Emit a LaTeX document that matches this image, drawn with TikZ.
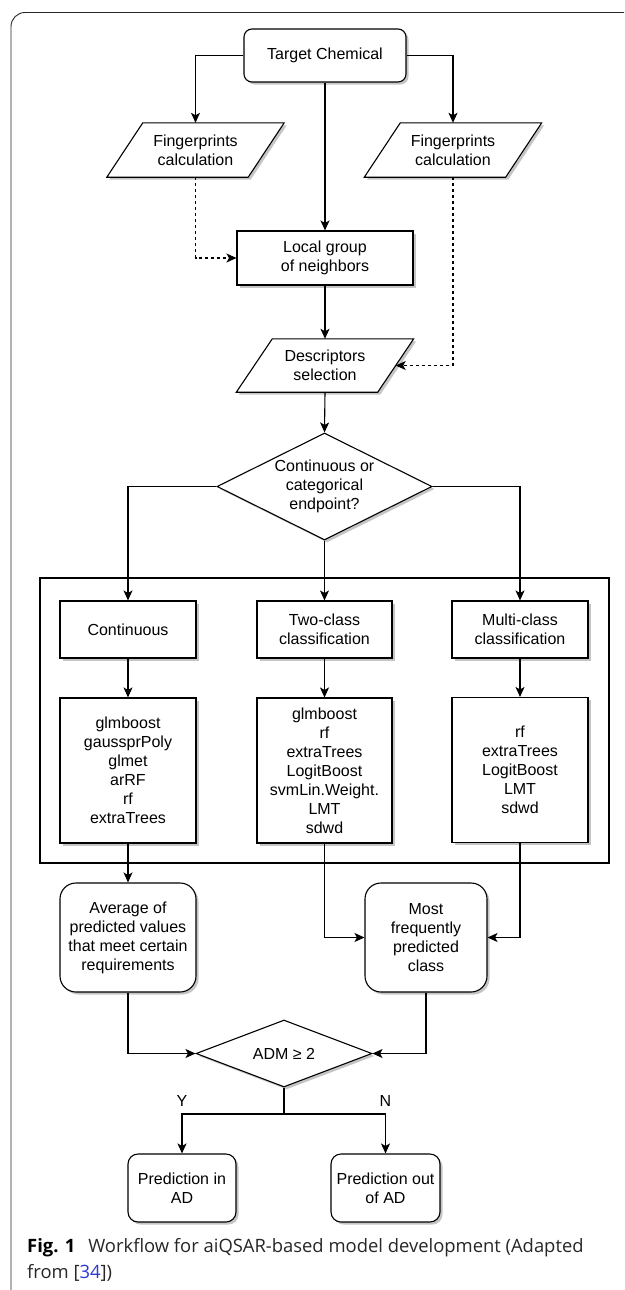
\documentclass[tikz,border=0pt]{standalone}
\usepackage{fontspec}
\setmainfont{Liberation Sans}
\newfontfamily\capfont{Open Sans}
\usetikzlibrary{shapes.geometric,arrows.meta,shadows,backgrounds}
\definecolor{citeblue}{RGB}{45,55,215}

\tikzset{
  lined/.style={draw, line width=1.1pt, fill=white,
    drop shadow={shadow xshift=2.5pt, shadow yshift=-2.5pt, opacity=0.5, fill=black!45}},
  flow/.style={lined, align=center, inner sep=2pt},
  box/.style={flow, rectangle},
  rbox/.style={flow, rectangle, rounded corners=#1},
  io/.style={rectangle, align=center, inner sep=0pt, minimum width=141pt},
  decision/.style={flow, diamond, inner sep=0pt},
  arr/.style={line width=1.1pt, -{Stealth[length=10pt,width=9pt,inset=2.5pt]}},
  dasharr/.style={arr, dash pattern=on 3pt off 3pt},
  yn/.style={inner sep=0pt, above=7pt}
}

\begin{document}
\begin{tikzpicture}[x=1pt, y=-1pt, font=\fontsize{16}{19}\selectfont]
    \useasboundingbox (0,0) rectangle (624,1290);

    % figure frame
    \draw[black!85, line width=0.9pt, rounded corners=14pt] (624,12.5) -- (11,12.5) -- (11,1290);
    \draw[line width=1.1pt] (40,578) rectangle (609,863);

    % top part
    \node[rbox=8pt, minimum width=162pt, minimum height=53pt] (chem) at (325,55.5) {Target Chemical};
    \node[io, minimum height=54pt] (fpl) at (195.5,150) {Fingerprints\\calculation};
    \node[io, minimum height=54pt] (fpr) at (453,150) {Fingerprints\\calculation};
    \node[box, minimum width=176pt, minimum height=54pt] (grp) at (325,258) {Local group\\of neighbors};
    \node[io, minimum height=53pt] (desc) at (325,365.5) {Descriptors\\selection};
    \node[decision, aspect=2, minimum width=215pt, minimum height=107pt] (dec) at (324.5,486.5)
        {Continuous or\\categorical\\endpoint?};

    % parallelograms behind the io nodes
    \begin{scope}[on background layer]
        \foreach \n in {fpl,fpr,desc}
            \draw[lined] ([xshift=-18pt]\n.south west) -- ([xshift=18pt]\n.north west)
                -- ([xshift=18pt]\n.north east) -- ([xshift=-18pt]\n.south east) -- cycle;
    \end{scope}

    % endpoint types
    \node[box, minimum width=136pt, minimum height=57pt] (cont) at (128,629.5) {Continuous};
    \node[box, minimum width=135pt, minimum height=57pt] (two) at (324.5,629.5) {Two-class\\classification};
    \node[box, minimum width=136pt, minimum height=57pt] (multi) at (520,629.5) {Multi-class\\classification};

    % algorithms
    \node[box, minimum width=136pt, minimum height=145pt] (contlist) at (128,770.5)
        {glmboost\\gaussprPoly\\glmet\\arRF\\rf\\extraTrees};
    \node[box, minimum width=135pt, minimum height=145pt] (twolist) at (324.5,770.5)
        {glmboost\\rf\\extraTrees\\LogitBoost\\svmLin.Weight.\\LMT\\sdwd};
    \node[box, minimum width=136pt, minimum height=145pt] (multilist) at (520,770)
        {rf\\extraTrees\\LogitBoost\\LMT\\sdwd};

    % consensus and applicability domain
    \node[rbox=16pt, minimum width=136pt, minimum height=109pt] (avg) at (128,937.5)
        {Average of\\predicted values\\that meet certain\\requirements};
    \node[rbox=16pt, minimum width=122pt, minimum height=109pt] (most) at (426,937.5)
        {Most\\frequently\\predicted\\class};
    \node[decision, aspect=2.6, minimum width=176pt, minimum height=67pt] (adm) at (284,1053.5) {ADM ≥ 2};
    \coordinate (split) at (284,1114);
    \node[rbox=10pt, minimum width=108pt, minimum height=68pt] (pin) at (182,1188) {Prediction in\\AD};
    \node[rbox=10pt, minimum width=109pt, minimum height=68pt] (pout) at (385.5,1188) {Prediction out\\of AD};

    % connectors
    \draw[arr] (chem.west) -| (fpl.north);
    \draw[arr] (chem.east) -| (fpr.north);
    \draw[arr] (chem.south) -- (grp.north);
    \draw[dasharr] (fpl.south) |- (grp.west);
    \draw[dasharr] (fpr.south) |- (desc.east);
    \draw[arr] (grp.south) -- (desc.north);
    \draw[arr] (desc.south) -- (dec.north);
    \draw[arr] (dec.west) -| (cont.north);
    \draw[arr] (dec.south) -- (two.north);
    \draw[arr] (dec.east) -| (multi.north);
    \draw[arr] (cont.south) -- (contlist.north);
    \draw[arr] (two.south) -- (twolist.north);
    \draw[arr] (multi.south) -- (multilist.north);
    \draw[arr] (contlist.south) -- (avg.north);
    \draw[arr] (twolist.south) |- (most.west);
    \draw[arr] (multilist.south) |- (most.east);
    \draw[arr] (avg.south) |- (adm.west);
    \draw[arr] (most.south) |- (adm.east);
    \draw[line width=1.1pt] (adm.south) -- (split);
    \draw[arr] (split) -| node[yn, pos=0.5] (yes) {Y} (pin.north);
    \draw[arr] (split) -| node[yn, pos=0.5] (no) {N} (pout.north);

    % caption
    \node[anchor=north west, inner sep=0pt, align=left, text=black!85,
          font=\capfont\fontsize{18.4}{26}\selectfont] (caption) at (27,1238)
        {\textbf{\color{black}Fig. 1}\hspace{0.7em}Workflow for aiQSAR-based model development (Adapted\\from [\textcolor{citeblue}{34}])};
\end{tikzpicture}
\end{document}
